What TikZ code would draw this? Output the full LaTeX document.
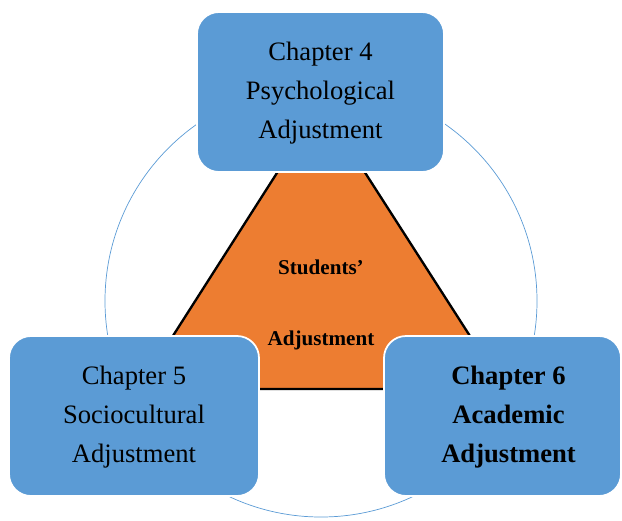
\documentclass[tikz,border=0pt]{standalone}
\usepackage{fontspec}
\setmainfont{Liberation Serif}
\definecolor{chapblue}{HTML}{5B9BD5}
\definecolor{adjorange}{HTML}{ED7D31}
\tikzset{
  chapbox/.style={fill=chapblue, draw=white, line width=1.5pt, rounded corners=0.66cm,
    align=center, font=\fontsize{22.7pt}{33.3pt}\selectfont, text depth=0.12cm},
  ring/.style={draw=chapblue, line width=0.6pt}
}

\begin{document}
\begin{tikzpicture}[x=0.03cm, y=-0.03cm]
  \useasboundingbox (0, 0) rectangle (622, 520);
  \draw[ring] (321, 301) circle (6.48cm);
  \coordinate (apex) at (321, 104);
  \coordinate (lcorner) at (139, 389);
  \coordinate (rcorner) at (504, 389);
  \filldraw[fill=adjorange, line width=2pt] (apex) -- (lcorner) -- (rcorner) -- cycle;
  \node (core) at (321, 305) [align=center, font=\bfseries\fontsize{18pt}{60pt}\selectfont]
    {Students'\\Adjustment};
  \node (ch4) at (320.5, 92) [chapbox, minimum width=7.41cm, minimum height=4.8cm]
    {Chapter 4\\Psychological\\Adjustment};
  \node (ch5) at (134, 416) [chapbox, minimum width=7.5cm, minimum height=4.8cm]
    {Chapter 5\\Sociocultural\\Adjustment};
  \node (ch6) at (502.5, 416) [chapbox, minimum width=7.11cm, minimum height=4.8cm, font=\bfseries\fontsize{22.7pt}{33.3pt}\selectfont]
    {\hspace*{0.36cm}Chapter 6\\\hspace*{0.36cm}Academic\\\hspace*{0.36cm}Adjustment};
\end{tikzpicture}
\end{document}
